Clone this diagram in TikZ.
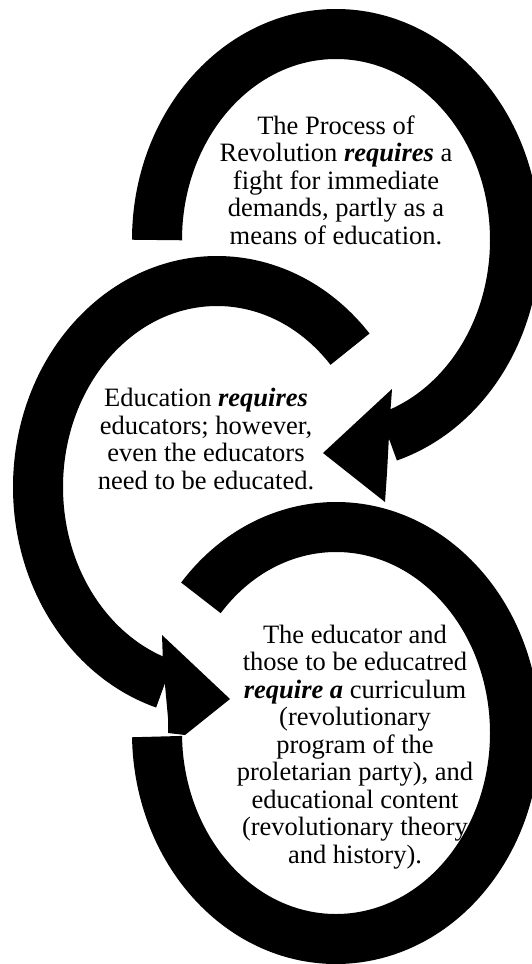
\documentclass[tikz,border=0pt]{standalone}
\usepackage{fontspec}
\setmainfont{Liberation Serif}

\begin{document}
\begin{tikzpicture}[x=1pt, y=1pt,
  ring/.style={line width=50pt, line cap=butt},
  txt/.style={align=center, inner sep=0pt, font=\fontsize{26.5}{27.5}\selectfont}]
\useasboundingbox (0,0) rectangle (532,-964);
\clip (0,0) rectangle (532,-964);
\coordinate (c1) at (336,-240);
\coordinate (c2) at (217,-487);
\coordinate (c3) at (336,-733);
\draw[ring] ([shift={(180:179 and 206)}]c1) arc[start angle=180, end angle=-73, x radius=179, y radius=206];
\fill (390,-417) -- (392,-389) -- (323,-453) -- (385,-502) -- (387,-473) -- cycle;
\draw[ring] ([shift={(42:179 and 206)}]c2) arc[start angle=42, end angle=253, x radius=179, y radius=206];
\fill (163,-663) -- (162,-635) -- (230,-699) -- (185,-735) -- (168,-733) -- (168,-718) -- cycle;
\draw[ring] ([shift={(139:179 and 206)}]c3) arc[start angle=139, end angle=-179, x radius=179, y radius=206];
\node (1)[txt] at (336,-180) {The Process of\\Revolution \textbf{\textit{requires}} a\\fight for immediate\\demands, partly as a\\means of education.};
\node (2)[txt] at (206,-439) {Education \textbf{\textit{requires}}\\educators; however,\\even the educators\\need to be educated.};
\node (3)[txt] at (355,-747) {The educator and\\those to be educatred\\\textbf{\textit{require a}} curriculum\\(revolutionary\\program of the\\proletarian party), and\\educational content\\(revolutionary theory\\and history).};
\end{tikzpicture}
\end{document}
